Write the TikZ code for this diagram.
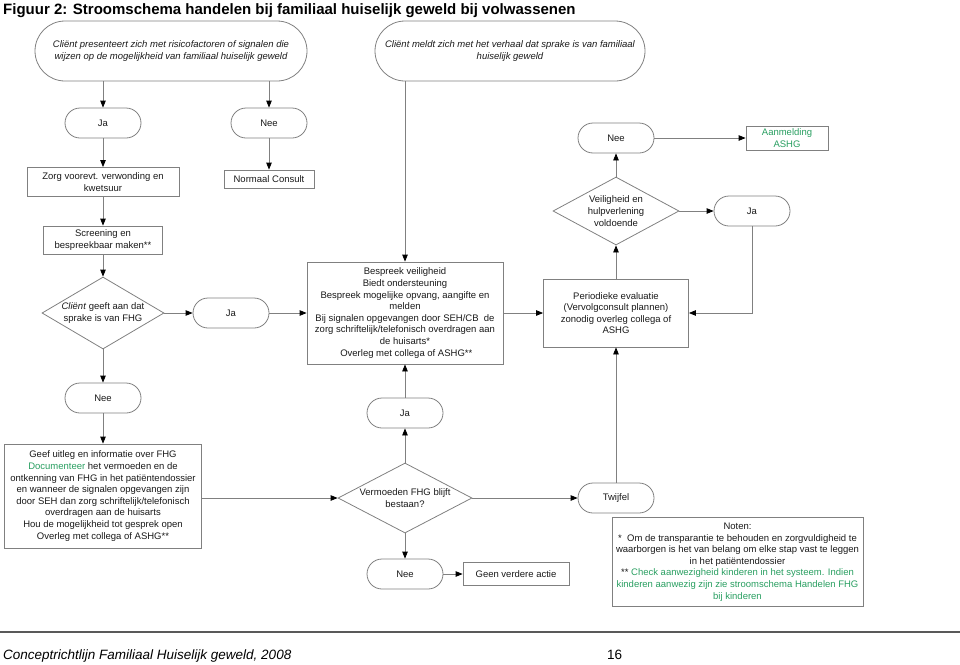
\documentclass[tikz,border=0pt]{standalone}
\usepackage{fontspec}
\setmainfont{Liberation Sans}
\usetikzlibrary{arrows.meta,shapes.geometric}
\definecolor{linegray}{RGB}{128,128,128}
\definecolor{txtc}{RGB}{25,25,25}
\definecolor{grn}{RGB}{40,158,96}
\newcommand\fsn{\fontsize{9.5}{11.6}\selectfont}
\begin{document}
\begin{tikzpicture}[x=1pt,y=-1pt,
  every node/.style={text=txtc},
  box/.style={draw=linegray, line width=0.8pt, rectangle, inner sep=2pt, align=center, font=\fsn},
  term/.style={draw=linegray, line width=0.8pt, rectangle, rounded corners=15pt, minimum width=76pt, minimum height=30pt, inner sep=0pt, align=center, font=\fsn},
  bigterm/.style={term, rounded corners=30pt, minimum height=60pt},
  dia/.style={draw=linegray, line width=0.8pt, diamond, inner sep=0pt},
  txt/.style={align=center, font=\fsn, inner sep=0pt},
  arr/.style={draw=linegray, line width=0.8pt, -{Triangle[length=7pt,width=5.5pt,color=black]}},
  ln/.style={draw=linegray, line width=0.8pt},
]
\useasboundingbox (0,0) rectangle (960,664);

\node[anchor=base west, font=\bfseries\fontsize{15}{18}\selectfont, text=black, inner sep=0pt] (title) at (3,14) {Figuur 2: Stroomschema handelen bij familiaal huiselijk geweld bij volwassenen};

\node[bigterm, minimum width=272pt, font=\fsn\itshape] (s1) at (171,51) {Cliënt presenteert zich met risicofactoren of signalen die\\wijzen op de mogelijkheid van familiaal huiselijk geweld};
\node[bigterm, minimum width=270pt, font=\fsn\itshape] (s2) at (510,51) {Cliënt meldt zich met het verhaal dat sprake is van familiaal\\huiselijk geweld};

\node[term] (jaL) at (103,123) {Ja};
\node[term] (neeL) at (269,123) {Nee};
\node[term] (neeR) at (616,138) {Nee};
\node[box, minimum width=82pt, minimum height=24pt, text=grn, inner sep=1pt] (aanm) at (787,138) {Aanmelding\\ASHG};
\node[box, minimum width=152pt, minimum height=29pt] (zorg) at (103,182) {Zorg voorevt. verwonding en\\kwetsuur};
\node[box, minimum width=90pt, minimum height=18pt, inner sep=1pt] (norm) at (269,179) {Normaal Consult};
\node[dia, minimum width=126pt, minimum height=68pt] (veil) at (616,211) {};
\node[txt] (veilt) at (veil) {Veiligheid en\\hulpverlening\\voldoende};
\node[term] (jaR) at (752,211) {Ja};
\node[box, minimum width=119pt, minimum height=28pt] (scr) at (103,240) {Screening en\\bespreekbaar maken**};

\node[dia, minimum width=122pt, minimum height=72pt] (cli) at (103,313) {};
\node[txt] (clit) at (cli) {\textit{Cliënt} geeft aan dat\\sprake is van FHG};
\node[term] (jaM) at (231,313) {Ja};
\node[box, minimum width=196pt, minimum height=102pt, inner sep=1pt] (besp) at (405,313) {Bespreek veiligheid\\Biedt ondersteuning\\Bespreek mogelijke opvang, aangifte en\\melden\\Bij signalen opgevangen door SEH/CB\ \ de\\zorg schriftelijk/telefonisch overdragen aan\\de huisarts*\\\ Overleg met collega of ASHG**};
\node[box, minimum width=145pt, minimum height=68pt] (per) at (616,313) {Periodieke evaluatie\\(Vervolgconsult plannen)\\zonodig overleg collega of\\ASHG};

\node[term] (neeL2) at (103,398) {Nee};
\node[term] (jaLow) at (405,413) {Ja};

\node[box, minimum width=197pt, minimum height=104pt, inner sep=1pt] (geef) at (103,496) {Geef uitleg en informatie over FHG\\\textcolor{grn}{Documenteer} het vermoeden en de\\ontkenning van FHG in het patiëntendossier\\en wanneer de signalen opgevangen zijn\\door SEH dan zorg schriftelijk/telefonisch\\overdragen aan de huisarts\\Hou de mogelijkheid tot gesprek open\\Overleg met collega of ASHG**};
\node[dia, minimum width=134pt, minimum height=70pt] (verm) at (405,498) {};
\node[txt] (vermt) at (verm) {Vermoeden FHG blijft\\bestaan?};
\node[term] (twij) at (616,498) {Twijfel};
\node[term] (neeLow) at (405,574) {Nee};
\node[box, minimum width=106pt, minimum height=23pt] (geen) at (516,574) {Geen verdere actie};
\node[box, minimum width=251pt, minimum height=89pt, inner sep=1pt] (noten) at (737.5,562) {Noten:\\*\ \ Om de transparantie te behouden en zorgvuldigheid te\\waarborgen is het van belang om elke stap vast te leggen\\in het patiëntendossier\\** \textcolor{grn}{Check aanwezigheid kinderen in het systeem. Indien}\\\textcolor{grn}{kinderen aanwezig zijn zie stroomschema Handelen FHG}\\\textcolor{grn}{bij kinderen}};

% connectors
\draw[arr] (jaL |- s1.south) -- (jaL.north);
\draw[arr] (neeL |- s1.south) -- (neeL.north);
\draw[arr] (besp |- s2.south) -- (besp.north);
\draw[arr] (jaL.south) -- (zorg.north);
\draw[arr] (zorg.south) -- (scr.north);
\draw[arr] (scr.south) -- (cli.north);
\draw[arr] (cli.south) -- (neeL2.north);
\draw[arr] (neeL2.south) -- (geef.north);
\draw[arr] (neeL.south) -- (norm.north);
\draw[arr] (cli.east) -- (jaM.west);
\draw[arr] (jaM.east) -- (besp.west);
\draw[arr] (besp.east) -- (per.west);
\draw[arr] (per.north) -- (veil.south);
\draw[arr] (veil.north) -- (neeR.south);
\draw[arr] (neeR.east) -- (aanm.west);
\draw[arr] (veil.east) -- (jaR.west);
\draw[arr] (jaR.south) |- (per.east);
\draw[arr] (jaLow.north) -- (besp.south);
\draw[arr] (verm.north) -- (jaLow.south);
\draw[arr] (geef.east |- verm) -- (verm.west);
\draw[arr] (verm.east) -- (twij.west);
\draw[arr] (twij.north) -- (per.south);
\draw[arr] (verm.south) -- (neeLow.north);
\draw[arr] (neeLow.east) -- (geen.west);

% footer
\coordinate (fl) at (0,632);
\coordinate (fr) at (960,632);
\draw[draw=black!65, line width=1.2pt] (fl) -- (fr);
\node[anchor=base west, inner sep=0pt, font=\itshape\fontsize{13.5}{16}\selectfont, text=black] (foot) at (3,659) {Conceptrichtlijn Familiaal Huiselijk geweld, 2008};
\node[anchor=base west, inner sep=0pt, font=\fontsize{13.5}{16}\selectfont, text=black] (page) at (607,659) {16};
\end{tikzpicture}
\end{document}
